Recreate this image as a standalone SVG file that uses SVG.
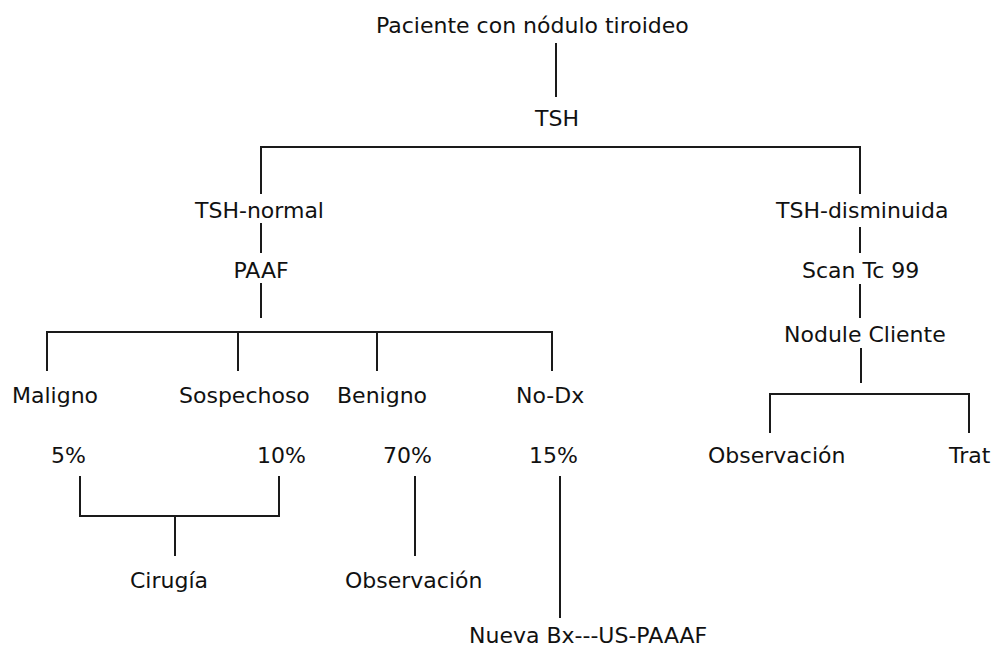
<svg xmlns="http://www.w3.org/2000/svg" width="1002" height="648" viewBox="0 0 1002 648">
<style>
text{font-family:"DejaVu Sans","Verdana",sans-serif;font-size:22px;fill:#111;}
.c{fill:none;stroke:#1a1a1a;stroke-width:2;stroke-linecap:square;}
</style>
<rect width="1002" height="648" fill="#fff"/>
<g id="connectors">
<path class="c" d="M556 44V96"/>
<path class="c" d="M261 193V147H860V193"/>
<path class="c" d="M261 224V252"/>
<path class="c" d="M261 284V317"/>
<path class="c" d="M47 370V332H552V370M238 332V370M377 332V370"/>
<path class="c" d="M860 228V252"/>
<path class="c" d="M860 285V317"/>
<path class="c" d="M861 349V382"/>
<path class="c" d="M770 432V394H969V432"/>
<path class="c" d="M80 477V516H279V477M175 516V555"/>
<path class="c" d="M415 477V555"/>
<path class="c" d="M560 477V617"/>
</g>
<g id="n-paciente"><text x="376" y="33">Paciente con nódulo tiroideo</text></g>
<g id="n-tsh"><text x="535" y="126">TSH</text></g>
<g id="n-tsh-normal"><text x="195" y="218">TSH-normal</text></g>
<g id="n-tsh-dis"><text x="776" y="218">TSH-disminuida</text></g>
<g id="n-paaf"><text x="261" y="278" text-anchor="middle">PAAF</text></g>
<g id="n-scan"><text x="802" y="278">Scan Tc 99</text></g>
<g id="n-nodule"><text x="784" y="342">Nodule Cliente</text></g>
<g id="n-maligno"><text x="12" y="403">Maligno</text></g>
<g id="n-sospechoso"><text x="179" y="403">Sospechoso</text></g>
<g id="n-benigno"><text x="337" y="403">Benigno</text></g>
<g id="n-nodx"><text x="516" y="403">No-Dx</text></g>
<g id="n-obs-r"><text x="708" y="463">Observación</text></g>
<g id="n-trat"><text x="949" y="463">Trat</text></g>
<g id="n-p5"><text x="51" y="463">5%</text></g>
<g id="n-p10"><text x="257" y="463">10%</text></g>
<g id="n-p70"><text x="383" y="463">70%</text></g>
<g id="n-p15"><text x="529" y="463">15%</text></g>
<g id="n-cirugia"><text x="130" y="588">Cirugía</text></g>
<g id="n-obs-l"><text x="345" y="588">Observación</text></g>
<g id="n-nueva"><text x="469" y="643">Nueva Bx---US-PAAAF</text></g>
</svg>
